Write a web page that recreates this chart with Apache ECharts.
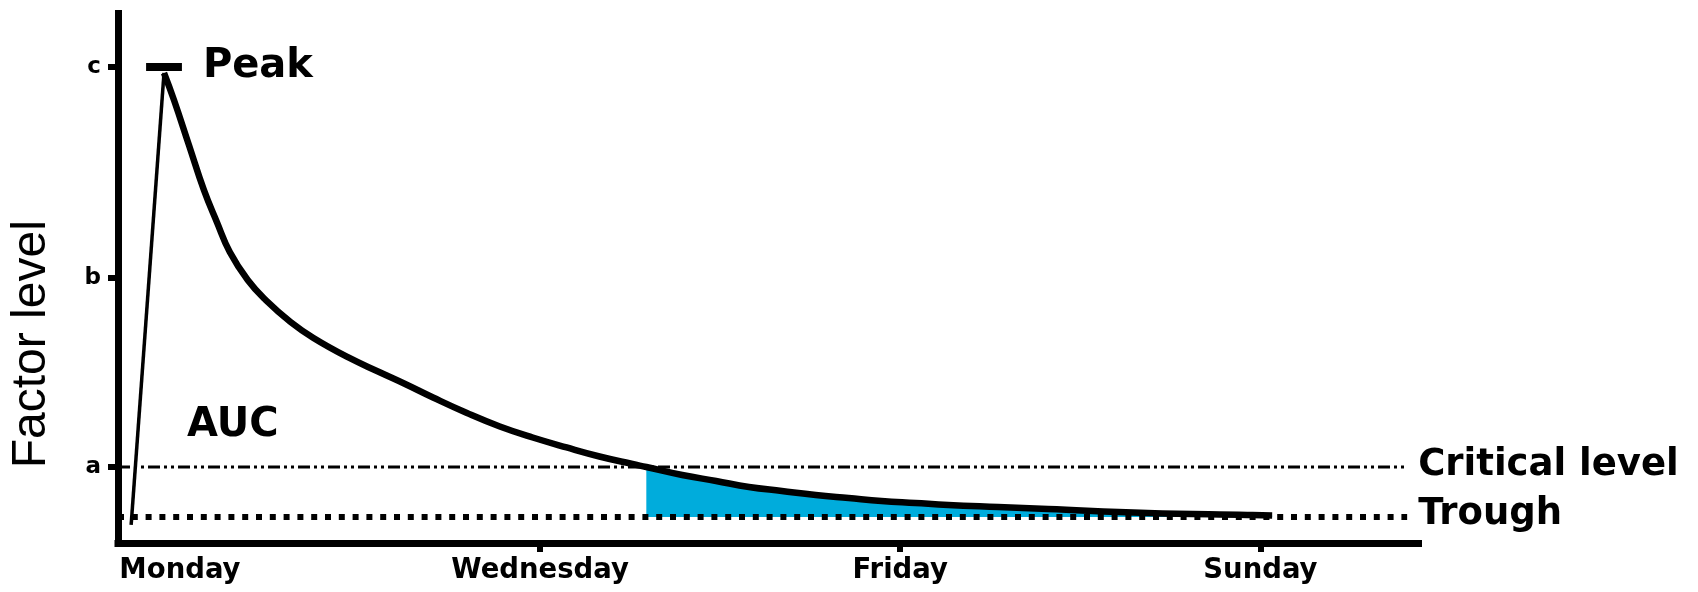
<!DOCTYPE html>
<html>
<head>
<meta charset="utf-8">
<script src="https://cdn.jsdelivr.net/npm/echarts@6/dist/echarts.min.js"></script>
<style>html,body{margin:0;padding:0;background:#fff}#chart{width:1698px;height:592px}</style>
</head>
<body>
<div id="chart"></div>
<script>
// ---- data ----
const DAYS = ['Monday', 'Tuesday', 'Wednesday', 'Thursday', 'Friday', 'Saturday', 'Sunday'];
const DAY_LABEL_INDEX = [0, 2, 4, 6];
const DAY_TICK_INDEX = [2, 4, 6];
const LEVEL_NAMES = ['a', 'b', 'c'];
const LEVEL_VALUES = [14.26, 49.7, 89.3];
const CRITICAL = 14.26;
const TROUGH = 4.9;
const RISE_X = [-0.271, -0.0885];
const RISE_Y = [3.4, 88.18];
const DECAY_X = [-0.0885, -0.0332, 0.0498, 0.1328, 0.2048, 0.2767, 0.3763, 0.4759, 0.6143, 0.7415, 0.9297, 1.1123, 1.2507, 1.4056, 1.5938, 1.7764, 1.959, 2.1472, 2.3298, 2.5125, 2.5899, 2.7892, 2.9773, 3.1599, 3.3426, 3.5307, 3.7133, 3.896, 4.0841, 4.2668, 4.5435, 4.8202, 5.3736, 5.927, 6.0653];
const DECAY_Y = [88.18, 83.11, 74.67, 66.23, 60.23, 54.6, 49.34, 45.59, 41.46, 38.46, 34.9, 31.99, 29.83, 27.3, 24.39, 21.86, 19.79, 17.92, 16.23, 14.82, 14.26, 12.76, 11.63, 10.51, 9.76, 9.01, 8.44, 7.88, 7.5, 7.13, 6.75, 6.38, 5.63, 5.25, 5.16];
const AUC_FROM = 2.5899;
const PEAK_BAR_X = [-0.188, 0.011];
const PEAK_LEVEL = 89.3;
const REF_LINE_X = [-0.344, 6.815];
const AUC_LABEL_POS = [0.293, 22.1];

// ---- build ----
const decay = DECAY_X.map((x, i) => [x, DECAY_Y[i]]);
const rise = RISE_X.map((x, i) => [x, RISE_Y[i]]);
const aucPts = decay.filter(p => p[0] >= AUC_FROM);

const BOLD = "'DejaVu Sans', Verdana, sans-serif";

const chart = echarts.init(document.getElementById('chart'), null, {renderer: 'canvas'});
chart.setOption({
  animation: false,
  backgroundColor: '#fff',
  grid: {left: 117, right: 279.5, top: 13.5, bottom: 49},
  xAxis: {
    type: 'value', min: -0.344, max: 6.878,
    axisLine: {show: true, onZero: false, lineStyle: {color: '#000', width: 7, cap: 'square'}},
    axisTick: {show: true, customValues: DAY_TICK_INDEX, length: 9, lineStyle: {color: '#000', width: 6}},
    axisLabel: {customValues: DAY_LABEL_INDEX, formatter: v => DAYS[Math.round(v)], color: '#000',
      fontFamily: BOLD, fontWeight: 'bold', fontSize: 27.5, margin: 14},
    splitLine: {show: false}
  },
  yAxis: {
    type: 'value', min: 0, max: 99.34,
    name: 'Factor level', nameLocation: 'middle', nameRotate: 90, nameGap: 62,
    nameTextStyle: {fontFamily: "'Liberation Sans', Arial, sans-serif", fontSize: 48, color: '#000', padding: [0, 132, 0, 0]},
    axisLine: {show: true, onZero: false, lineStyle: {color: '#000', width: 7, cap: 'square'}},
    axisTick: {show: true, customValues: LEVEL_VALUES, length: 10, lineStyle: {color: '#000', width: 6}},
    axisLabel: {customValues: LEVEL_VALUES, formatter: v => LEVEL_NAMES[LEVEL_VALUES.indexOf(v)], color: '#000',
      fontFamily: BOLD, fontWeight: 'bold', fontSize: 23, margin: 17},
    splitLine: {show: false}
  },
  series: [
    {
      name: 'AUC fill', type: 'custom', coordinateSystem: 'cartesian2d', data: [[AUC_FROM, TROUGH]], silent: true, z: 1,
      renderItem: function (params, api) {
        const pts = aucPts.map(p => api.coord(p));
        pts.push(api.coord([aucPts[aucPts.length - 1][0], TROUGH]));
        pts.push(api.coord([aucPts[0][0], TROUGH]));
        return {type: 'polygon', shape: {points: pts}, style: {fill: '#00ACDC', stroke: null}};
      }
    },
    {
      name: 'Critical level', type: 'line', data: REF_LINE_X.map(x => [x, CRITICAL]), symbol: 'none',
      lineStyle: {color: '#000', width: 2.8, type: [12, 4, 3, 4, 3, 4]}, z: 3,
      endLabel: {show: true, formatter: 'Critical level', distance: 11, color: '#000', fontFamily: BOLD, fontWeight: 'bold', fontSize: 37, offset: [0, -2]}
    },
    {
      name: 'Trough', type: 'line', data: REF_LINE_X.map(x => [x, TROUGH]), symbol: 'none',
      lineStyle: {color: '#000', width: 6, type: [6, 7.8]}, z: 3,
      endLabel: {show: true, formatter: 'Trough', distance: 11, color: '#000', fontFamily: BOLD, fontWeight: 'bold', fontSize: 37, offset: [0, -2]}
    },
    {
      name: 'Rise', type: 'line', data: rise, symbol: 'none',
      lineStyle: {color: '#000', width: 3.5}, z: 4
    },
    {
      name: 'Decay', type: 'line', data: decay, symbol: 'none', smooth: 0.45,
      lineStyle: {color: '#000', width: 6.5}, z: 5
    },
    {
      name: 'Peak', type: 'line', data: PEAK_BAR_X.map(x => [x, PEAK_LEVEL]), symbol: 'none',
      lineStyle: {color: '#000', width: 8, cap: 'butt'}, z: 6,
      endLabel: {show: true, formatter: 'Peak', distance: 21, color: '#000', fontFamily: BOLD, fontWeight: 'bold', fontSize: 40}
    },
    {
      name: 'AUC', type: 'scatter', data: [AUC_LABEL_POS], symbolSize: 0, itemStyle: {color: '#000', opacity: 1},
      label: {show: true, position: 'inside', formatter: 'AUC', color: '#000', textBorderWidth: 0, fontFamily: BOLD, fontWeight: 'bold', fontSize: 40}, z: 6
    }
  ]
});
</script>
</body>
</html>
